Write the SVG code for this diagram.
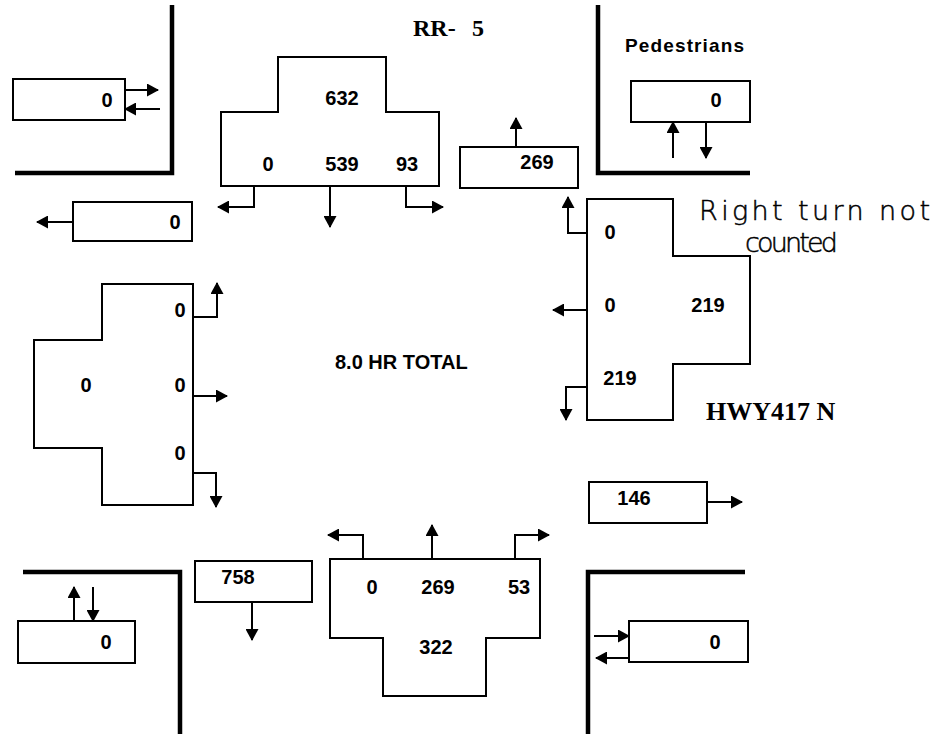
<svg xmlns="http://www.w3.org/2000/svg" width="933" height="734" viewBox="0 0 933 734">
<defs>
<marker id="ah" markerUnits="userSpaceOnUse" markerWidth="12" markerHeight="13" refX="11" refY="6.5" orient="auto">
<path d="M0,0 L12,6.5 L0,13 Z" fill="#000"/>
</marker>
<style>
.box{fill:#fff;stroke:#000;stroke-width:2}
.wall{fill:none;stroke:#000;stroke-width:4.5}
.arr{fill:none;stroke:#000;stroke-width:2;marker-end:url(#ah)}
.num{font-family:"Liberation Sans",Arial,sans-serif;font-weight:bold;font-size:20px;text-anchor:middle;fill:#000}
.lbl{font-family:"Liberation Sans",Arial,sans-serif;font-weight:bold;font-size:19px;fill:#000}
.ser{font-family:"Liberation Serif","Times New Roman",serif;font-weight:bold;font-size:24px;fill:#000}
.hand{font-family:"DejaVu Sans",sans-serif;font-weight:200;font-size:27px;fill:#000;stroke:#000;stroke-width:0.5}
</style>
</defs>
<rect width="933" height="734" fill="#fff"/>

<g id="walls">
<path class="wall" d="M15,173 L172,173 L172,5"/>
<path class="wall" d="M598,5 L598,173 L750,173"/>
<path class="wall" d="M23,572 L180,572 L180,734"/>
<path class="wall" d="M745,572 L588,572 L588,734"/>
</g>

<g id="labels">
<text class="ser" x="413" y="36">RR-</text>
<text class="ser" x="472" y="36">5</text>
<text class="lbl" x="625" y="52" textLength="119">Pedestrians</text>
<text class="lbl" x="335" y="369" style="font-size:20px">8.0 HR TOTAL</text>
<text class="ser" x="706" y="420" style="font-size:26px">HWY417 N</text>
<text class="hand" x="699" y="220" textLength="231">Right turn not</text>
<text class="hand" x="745" y="252" textLength="93">counted</text>
</g>

<g id="ped-nw">
<rect class="box" x="13" y="79" width="112" height="41"/>
<text class="num" x="107" y="107">0</text>
</g>
<g id="out-west">
<rect class="box" x="73" y="202" width="119" height="39"/>
<text class="num" x="175" y="229">0</text>
</g>
<g id="approach-south">
<path class="box" d="M278,57 L386,57 L386,112 L439,112 L439,186 L221,186 L221,112 L278,112 Z"/>
<text class="num" x="342" y="105">632</text>
<text class="num" x="268" y="171">0</text>
<text class="num" x="342" y="171">539</text>
<text class="num" x="407" y="171">93</text>
</g>
<g id="out-north">
<rect class="box" x="460" y="147" width="118" height="41"/>
<text class="num" x="537" y="169">269</text>
</g>
<g id="ped-ne">
<rect class="box" x="631" y="81" width="119" height="41"/>
<text class="num" x="716" y="107">0</text>
</g>
<g id="approach-east">
<path class="box" d="M587,199 L673,199 L673,256 L750,256 L750,364 L673,364 L673,420 L587,420 Z"/>
<text class="num" x="610" y="239">0</text>
<text class="num" x="610" y="312">0</text>
<text class="num" x="708" y="312">219</text>
<text class="num" x="620" y="385">219</text>
</g>
<g id="approach-west">
<path class="box" d="M102,284 L193,284 L193,505 L102,505 L102,448 L34,448 L34,340 L102,340 Z"/>
<text class="num" x="180" y="317">0</text>
<text class="num" x="86" y="392">0</text>
<text class="num" x="180" y="392">0</text>
<text class="num" x="180" y="460">0</text>
</g>
<g id="out-east">
<rect class="box" x="589" y="482" width="118" height="41"/>
<text class="num" x="634" y="505">146</text>
</g>
<g id="ped-sw">
<rect class="box" x="18" y="621" width="117" height="42"/>
<text class="num" x="106" y="649">0</text>
</g>
<g id="out-south">
<rect class="box" x="195" y="561" width="117" height="41"/>
<text class="num" x="238" y="584">758</text>
</g>
<g id="approach-north">
<path class="box" d="M330,559 L540,559 L540,638 L486,638 L486,696 L383,696 L383,638 L330,638 Z"/>
<text class="num" x="372" y="594">0</text>
<text class="num" x="438" y="594">269</text>
<text class="num" x="519" y="594">53</text>
<text class="num" x="436" y="654">322</text>
</g>
<g id="ped-se">
<rect class="box" x="629" y="621" width="119" height="41"/>
<text class="num" x="715" y="649">0</text>
</g>

<g id="connectors">
<path class="arr" d="M125,90 L158,90"/>
<path class="arr" d="M160,109 L125,109"/>
<path class="arr" d="M73,222 L37,222"/>
<path class="arr" d="M254,186 L254,207 L218,207"/>
<path class="arr" d="M330,186 L330,227"/>
<path class="arr" d="M406,186 L406,207 L443,207"/>
<path class="arr" d="M516,147 L516,118"/>
<path class="arr" d="M673,158 L673,122"/>
<path class="arr" d="M706,122 L706,158"/>
<path class="arr" d="M587,233 L568,233 L568,197"/>
<path class="arr" d="M587,310 L553,310"/>
<path class="arr" d="M587,387 L566,387 L566,420"/>
<path class="arr" d="M193,317 L217,317 L217,283"/>
<path class="arr" d="M193,396 L227,396"/>
<path class="arr" d="M193,473 L216,473 L216,507"/>
<path class="arr" d="M707,502 L742,502"/>
<path class="arr" d="M74,621 L74,587"/>
<path class="arr" d="M93,587 L93,621"/>
<path class="arr" d="M252,602 L252,640"/>
<path class="arr" d="M363,559 L363,535 L328,535"/>
<path class="arr" d="M432,559 L432,525"/>
<path class="arr" d="M515,559 L515,535 L549,535"/>
<path class="arr" d="M594,636 L629,636"/>
<path class="arr" d="M629,658 L596,658"/>
</g>
</svg>
